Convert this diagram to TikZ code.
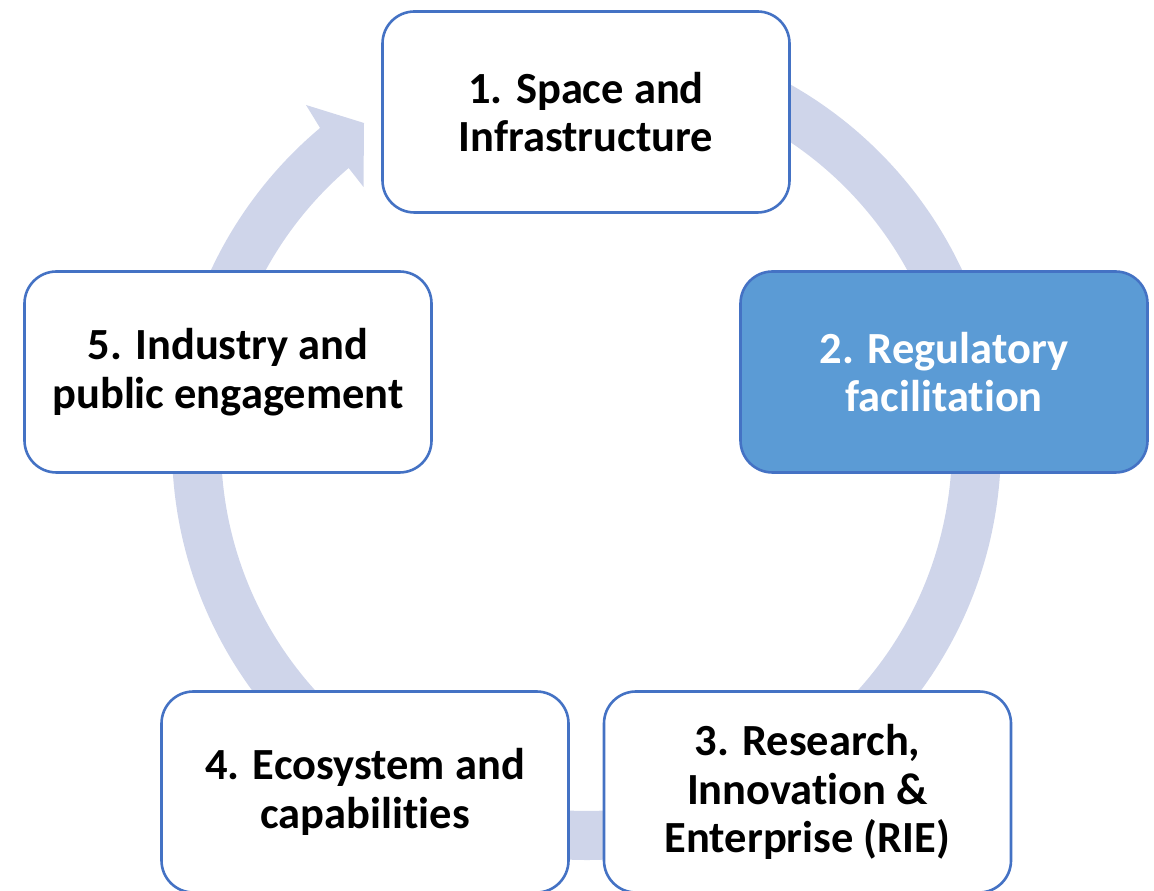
\documentclass[tikz,border=0pt]{standalone}
\usepackage{fontspec}
\setmainfont{Carlito}[Ligatures={NoCommon,NoContextual,NoRequired}]
\usepackage{tikz}
\definecolor{edgeblue}{RGB}{68, 114, 196}
\definecolor{stepblue}{RGB}{91, 155, 213}
\definecolor{ringblue}{RGB}{207, 213, 234}

\tikzset{
    stagebox/.style={draw=edgeblue, line width=2.6pt, fill=white, rounded corners=32pt,
                     minimum width=407pt, minimum height=201pt, align=center,
                     font=\fontsize{44.5}{48.5}\selectfont\bfseries},
    focusbox/.style={stagebox, fill=stepblue, text=white}
}

\begin{document}
\begin{tikzpicture}[x=1pt, y=1pt]
            \useasboundingbox (0.00, 0.00) rectangle (1154.00, 891.00);
            % cycle ring with its head, behind the boxes
            \fill[ringblue] ([shift={(586.50, 445.50)}]85:414.5) arc[start angle=85, end angle=-230, radius=414.5]
                 -- (306.00, 786.00) -- (364.00, 768.00) -- (363.50, 704.00)
                 -- ([shift={(586.50, 445.50)}]-229.4:365.5) arc[start angle=-229.4, end angle=85, radius=365.5]
                 -- cycle;
            % the five stages
            \node[stagebox] (space)     at ( 586.00, 779.00) {1. Space and\\Infrastructure};
            \node[focusbox] (regulate)  at ( 944.00, 519.00) {2. Regulatory\\facilitation};
            \node[stagebox] (research)  at ( 807.50,  99.00) {3. Research,\\Innovation \&\\Enterprise (RIE)};
            \node[stagebox] (ecosystem) at ( 365.00,  99.00) {4. Ecosystem and\\capabilities};
            \node[stagebox] (industry)  at ( 228.00, 519.00) {5. Industry and\\public engagement};
        \end{tikzpicture}
\end{document}
